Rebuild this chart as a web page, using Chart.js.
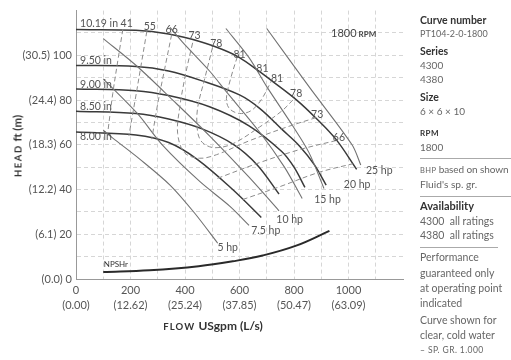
<!DOCTYPE html>
<html>
<head>
<meta charset="utf-8">
<script src="https://cdn.jsdelivr.net/npm/chart.js@4.4.1/dist/chart.umd.min.js"></script>
<style>
  html, body { margin: 0; padding: 0; background: #fff; }
  #wrap { position: relative; width: 511px; height: 360px; overflow: hidden; font-family: Lato, "Open Sans", sans-serif; }
  #chart { position: absolute; left: 0; top: 0; }
  .t { position: absolute; left: 420px; white-space: nowrap; line-height: 14px; color: #666; font-size: 10px; }
  .h { color: #333; font-weight: bold; font-size: 10.5px; }
  .sc { font-size: 8px; letter-spacing: 0.4px; text-transform: uppercase; }
  .hr { position: absolute; left: 420px; height: 1px; background: #aaa; }
  .axt { position: absolute; white-space: nowrap; font-weight: bold; color: #333; font-size: 12px; }
</style>
</head>
<body>
<div id="wrap">
  <canvas id="chart" width="511" height="360"></canvas>

  <div class="axt" style="left:17px; top:146px; transform: translate(-50%, -50%) rotate(-90deg); font-size:11.5px;"><span style="font-size:9.5px; letter-spacing:1.5px;">HEAD</span> ft (m)</div>
  <div class="axt" style="left:213px; top:325px; transform: translate(-50%, -50%);"><span style="font-size:9.5px; letter-spacing:1.2px;">FLOW</span> USgpm (L/s)</div>

  <div class="t h" style="top:13px">Curve number</div>
  <div class="t" style="top:27px; font-size:9px">PT104-2-0-1800</div>
  <div class="t h" style="top:44px">Series</div>
  <div class="t" style="top:58px">4300</div>
  <div class="t" style="top:72px">4380</div>
  <div class="t h" style="top:90px">Size</div>
  <div class="t" style="top:104px">6 × 6 × 10</div>
  <div class="t h sc" style="top:126px">RPM</div>
  <div class="t" style="top:140px">1800</div>
  <div class="hr" style="top:158px; width:91px"></div>
  <div class="t" style="top:162px; font-size:10px; letter-spacing:-0.1px"><span class="sc" style="font-size:7.5px">bhp</span> based on shown</div>
  <div class="t" style="top:177px; font-size:10.2px">Fluid's sp. gr.</div>
  <div class="hr" style="top:196px; width:91px"></div>
  <div class="t h" style="top:199px; font-size:11px">Availability</div>
  <div class="t" style="top:214px; font-size:10.5px">4300&nbsp; all ratings</div>
  <div class="t" style="top:228px; font-size:10.5px">4380&nbsp; all ratings</div>
  <div class="hr" style="top:247px; width:78px"></div>
  <div class="t" style="top:250px; font-size:10.5px">Performance</div>
  <div class="t" style="top:266px; font-size:10.5px">guaranteed only</div>
  <div class="t" style="top:281px; font-size:10.5px">at operating point</div>
  <div class="t" style="top:296px; font-size:10.5px">indicated</div>
  <div class="t" style="top:313px; font-size:10.5px">Curve shown for</div>
  <div class="t" style="top:328px; font-size:10.5px">clear, cold water</div>
  <div class="t sc" style="top:343px; font-size:8.5px">– sp. gr. 1.000</div>
</div>

<script>
// axis ticks
const flowTicks = [0, 200, 400, 600, 800, 1000];
const flowLps = ['0.00', '12.62', '25.24', '37.85', '50.47', '63.09'];
const headTicks = [0, 20, 40, 60, 80, 100];
const headMetres = ['0.0', '6.1', '12.2', '18.3', '24.4', '30.5'];

// impeller head curves, [USgpm, ft]
const impellers = ['10.19 in', '9.50 in', '9.00 in', '8.50 in', '8.00 in'];
const head1019 = [[0, 111.5], [220, 111.2], [340, 109.5], [460, 106], [540, 102.5], [600, 99], [665, 93.5], [720, 88.5], [810, 80], [880, 72], [955, 62.3], [1030, 49]];
const head950 = [[0, 95.5], [220, 95], [340, 93], [460, 88.7], [600, 82.3], [675, 76.2], [755, 67], [820, 59.5], [875, 51], [918, 42]];
const head900 = [[0, 85], [220, 84.2], [340, 82], [490, 77], [635, 68.5], [755, 57], [800, 50], [840, 41]];
const head850 = [[0, 75], [220, 74], [340, 71.5], [465, 67], [580, 60], [665, 51], [745, 38]];
const head800 = [[0, 65.7], [220, 64.4], [340, 61], [445, 53.5], [575, 40], [680, 27.5]];
const impellerHeads = [head1019, head950, head900, head850, head800];
const impellerLabelHead = [114.3, 97.7, 86.7, 77.1, 63.5];

// power lines
const hpLabels = ['5 hp', '7.5 hp', '10 hp', '15 hp', '20 hp', '25 hp'];
const hp5 = [[100, 66.5], [135, 63], [235, 53.5], [345, 42], [435, 29.5], [520, 16]];
const hp75 = [[100, 89.5], [225, 74], [320, 59.5], [455, 43.5], [565, 32.5], [635, 24]];
const hp10 = [[100, 107.5], [225, 95], [355, 80], [490, 64], [635, 45.5], [745, 30.5]];
const hp15 = [[345, 112.5], [390, 106], [490, 93], [550, 84], [675, 65.5], [765, 50], [830, 36]];
const hp20 = [[550, 112], [635, 99], [700, 86], [795, 68.5], [855, 56.5], [910, 40.5]];
const hp25 = [[700, 112], [855, 86], [1013, 60], [1045, 51]];
const hpLines = [hp5, hp75, hp10, hp15, hp20, hp25];
const hpLabelFlow = [519, 643, 735, 874, 983, 1064];
const hpLabelHead = [14, 21.5, 26.7, 35.5, 42, 48.6];

// efficiency contours (%)
const eff41 = [[172, 111.7], [154, 98], [135, 83], [117, 66]];
const eff55 = [[260, 110.8], [238, 95], [216, 79.3], [194, 64]];
const eff55b = [[611, 35.5], [746, 41.2], [892, 47.7], [1015, 51.5]];
const eff66 = [[351, 109.3], [325, 93.7], [300, 78.4], [278, 62.5]];
const eff66b = [[519, 45], [673, 52], [819, 57.8], [958, 62]];
const eff73 = [[428, 105.6], [402, 91.5], [380, 76.2], [373, 65], [398, 56.5], [453, 54], [516, 55.6], [636, 61.8], [782, 68.3], [885, 72.3]];
const eff78 = [[501, 103.5], [472, 89.4], [446, 76.2], [446, 66], [464, 61], [508, 58.7], [574, 60.4], [673, 67.9], [757, 75.3], [797, 80.2]];
const eff81 = [[592, 99.4], [567, 89.4], [552, 80.6], [563, 76.2], [600, 74], [643, 75.3], [680, 80.2], [717, 88.5]];
const effLines = [eff41, eff55, eff55b, eff66, eff66b, eff73, eff78, eff81];
const effLabels = ['41', '55', '66', '73', '78', '81', '81', '81', '78', '73', '66'];
const effLabelFlow = [186, 271, 351, 435, 515, 600, 684, 738, 808, 885, 965];
const effLabelHead = [114.3, 113, 111.7, 108.6, 105.1, 100.3, 94.2, 89.4, 82.8, 73.6, 63.1];

// NPSH required
const npshr = [[100, 3.1], [270, 3.9], [450, 5.7], [575, 7.9], [685, 10.5], [808, 14.9], [930, 21.5]];

const pts = arr => arr.map(p => ({ x: p[0], y: p[1] }));

const datasets = [];
effLines.forEach(d => datasets.push({ data: pts(d), borderColor: '#8c8c8c', borderWidth: 1, borderDash: [5, 3], tension: 0.35 }));
hpLines.forEach(d => datasets.push({ data: pts(d), borderColor: '#727272', borderWidth: 1.1, tension: 0.3 }));
impellerHeads.forEach(d => datasets.push({ data: pts(d), borderColor: '#3a3a3a', borderWidth: 1.5, tension: 0.35 }));
datasets.push({ data: pts(npshr), borderColor: '#2a2a2a', borderWidth: 2, tension: 0.4 });

const curveText = {
  id: 'curveText',
  afterDatasetsDraw(chart) {
    const { ctx, scales: { x, y } } = chart;
    ctx.save();
    ctx.fillStyle = '#555';
    ctx.textBaseline = 'middle';
    ctx.font = '10.5px Lato';
    ctx.textAlign = 'left';
    impellers.forEach((t, i) => ctx.fillText(t, x.getPixelForValue(15), y.getPixelForValue(impellerLabelHead[i])));
    hpLabels.forEach((t, i) => ctx.fillText(t, x.getPixelForValue(hpLabelFlow[i]), y.getPixelForValue(hpLabelHead[i])));
    ctx.textAlign = 'center';
    effLabels.forEach((t, i) => ctx.fillText(t, x.getPixelForValue(effLabelFlow[i]), y.getPixelForValue(effLabelHead[i])));
    ctx.textAlign = 'left';
    ctx.fillStyle = '#444';
    ctx.font = '11px Lato';
    const rx = x.getPixelForValue(936), ry = y.getPixelForValue(110);
    ctx.fillText('1800', rx, ry);
    ctx.font = 'bold 8px Lato';
    ctx.fillText('RPM', rx + ctx.measureText('1800').width + 9, ry + 1);
    ctx.font = '8px Lato';
    ctx.fillStyle = '#333';
    ctx.fillText('NPSHr', x.getPixelForValue(102), y.getPixelForValue(6.3));
    ctx.restore();
  }
};

new Chart(document.getElementById('chart').getContext('2d'), {
  type: 'line',
  data: { datasets },
  options: {
    responsive: false,
    animation: false,
    layout: { padding: { left: 0, right: 108, top: 5, bottom: 0 } },
    plugins: { legend: { display: false }, tooltip: { enabled: false } },
    elements: { point: { radius: 0 } },
    scales: {
      x: {
        type: 'linear', min: 0, max: 1200,
        ticks: {
          stepSize: 100, autoSkip: false, maxRotation: 0, padding: 4, color: '#555',
          font: { family: 'Lato', size: 11, lineHeight: 1.35 },
          callback: v => {
            const i = flowTicks.indexOf(v);
            return i < 0 ? '' : [String(v), '(' + flowLps[i] + ')'];
          }
        },
        grid: { color: c => (c.tick && c.tick.value === 1200) ? 'rgba(0,0,0,0)' : '#d6d6d6', drawTicks: false },
        border: { color: '#999', dash: [4, 3] },
        afterFit: s => { s.height = 81; }
      },
      y: {
        type: 'linear', min: 0, max: 120,
        ticks: {
          stepSize: 10, autoSkip: false, padding: 4, color: '#555',
          font: { family: 'Lato', size: 11 },
          callback: v => {
            const i = headTicks.indexOf(v);
            return i < 0 ? '' : '(' + headMetres[i] + ') ' + v;
          }
        },
        grid: { color: c => (c.tick && c.tick.value === 120) ? 'rgba(0,0,0,0)' : '#d6d6d6', drawTicks: false },
        border: { color: '#999', dash: [4, 3] },
        afterFit: s => { s.width = 76; }
      }
    }
  },
  plugins: [curveText]
});
</script>
</body>
</html>
